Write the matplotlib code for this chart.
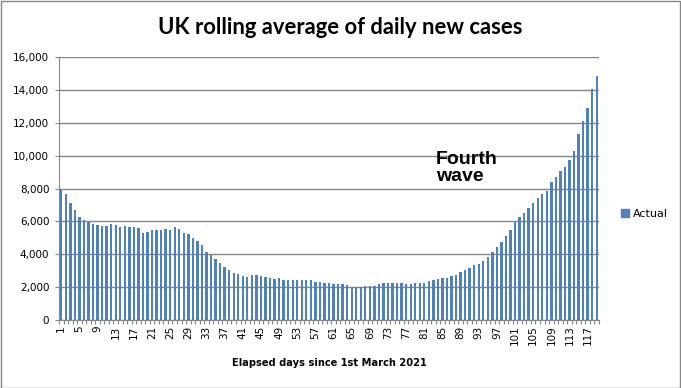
import matplotlib.pyplot as plt
from matplotlib.patches import Rectangle, Patch
from matplotlib.ticker import FuncFormatter

# Elapsed days since 1st March 2021
days = list(range(1, 120))

# Rolling average of daily new cases
cases = [
    8000, 7670, 7130, 6700, 6270, 6090, 5990, 5870, 5790, 5750,
    5750, 5850, 5790, 5690, 5730, 5660, 5660, 5600, 5320, 5380,
    5460, 5500, 5500, 5520, 5460, 5660, 5560, 5320, 5260, 5010,
    4830, 4590, 4160, 3960, 3740, 3490, 3250, 3070, 2880, 2820,
    2700, 2640, 2760, 2720, 2680, 2620, 2560, 2500, 2560, 2460,
    2460, 2460, 2460, 2460, 2460, 2460, 2330, 2290, 2250, 2250,
    2190, 2190, 2190, 2130, 2010, 1990, 1990, 2070, 2090, 2090,
    2170, 2250, 2250, 2250, 2250, 2250, 2190, 2190, 2250, 2250,
    2250, 2370, 2460, 2520, 2560, 2560, 2700, 2760, 2920, 3050,
    3190, 3350, 3430, 3610, 3840, 4140, 4430, 4770, 5120, 5500,
    5990, 6250, 6520, 6820, 7110, 7410, 7670, 7880, 8390, 8730,
    9050, 9320, 9720, 10290, 11310, 12140, 12910, 14070, 14860,
]

y_ticks = [0, 2000, 4000, 6000, 8000, 10000, 12000, 14000, 16000]
x_labels = days[::4]

bar_color = '#4F81BD'
grid_color = '#868686'

fig = plt.figure(figsize=(6.81, 3.88), dpi=100)
ax = fig.add_axes([59 / 681, 1 - 320 / 388, 540 / 681, (320 - 57.3) / 388])

ax.bar(days, cases, width=0.52, color=bar_color, zorder=3, label='Actual')

# Axes limits and ticks
ax.set_xlim(0.5, len(days) + 0.5)
ax.set_ylim(0, 16000)
ax.set_yticks(y_ticks)
ax.yaxis.set_major_formatter(FuncFormatter(lambda v, p: f'{int(v):,}'))
ax.set_xticks(x_labels)
ax.set_xticklabels([str(d) for d in x_labels], rotation=90, fontsize=7.5,
                   family='DejaVu Sans')
ax.set_xticks([d + 0.5 for d in [0] + days], minor=True)
ax.tick_params(axis='x', which='major', length=0, pad=4)
ax.tick_params(axis='x', which='minor', length=3, color=grid_color, width=0.8)
ax.tick_params(axis='y', length=3, color=grid_color, width=0.8, labelsize=7.5, pad=4)

# Horizontal gridlines only
ax.grid(axis='y', color=grid_color, linewidth=1, zorder=0)
for side in ['top', 'right']:
    ax.spines[side].set_visible(False)
ax.spines['left'].set_color(grid_color)
ax.spines['bottom'].set_color(grid_color)

ax.set_xlabel('Elapsed days since 1st March 2021', fontsize=7.1, fontweight='bold',
              labelpad=9)

# Title
fig.text(340 / 681, 1 - 27 / 388, 'UK rolling average of daily new cases',
         ha='center', va='center', fontsize=15.8, fontweight='bold', family='Lato')

# Annotation
fig.text(436 / 681, 1 - 151 / 388, 'Fourth\nwave', ha='left', va='top',
         fontsize=14, fontweight='bold', family='Liberation Sans', linespacing=1.0)

# Legend
ax.legend(handles=[Patch(color=bar_color, label='Actual')], loc='center left',
          bbox_to_anchor=(617 / 681, 1 - 214 / 388), bbox_transform=fig.transFigure,
          frameon=False, fontsize=8, handlelength=0.7, handleheight=0.7,
          handletextpad=0.3, borderaxespad=0)

# Outer chart border
fig.patches.append(Rectangle((0.5 / 681, 0.5 / 388), 679.5 / 681, 386.5 / 388,
                             transform=fig.transFigure, fill=False,
                             edgecolor='#868686', linewidth=1))

fig.savefig('out.png', dpi=100)
